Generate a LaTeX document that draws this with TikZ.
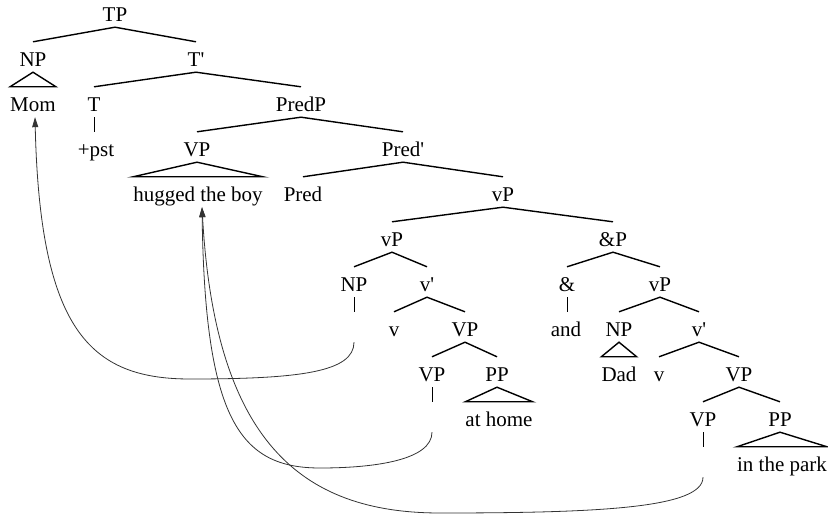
\documentclass[tikz,border=0pt]{standalone}
\usepackage{fontspec}
\setmainfont{Liberation Serif}
\usetikzlibrary{arrows.meta}
\begin{document}
\begin{tikzpicture}[x=1pt,y=-1pt,
  lbl/.style={anchor=base,inner sep=0pt,text height=25pt,text depth=5pt,
              font=\fontsize{21pt}{25pt}\selectfont},
  branch/.style={line width=1.4pt},
  stem/.style={line width=0.8pt},
  roof/.style={line width=1.4pt,line join=miter},
  move/.style={line width=0.8pt,draw=black!80,
               -{Triangle[length=10pt,width=6pt]}}]
\useasboundingbox (0,0) rectangle (828,518);

% labels, placed on their baselines
\node[lbl] (tp)    at (115,22)  {TP};
\node[lbl] (np1)   at (33,67)   {NP};
\node[lbl] (tbar)  at (196,67)  {T\textquotesingle};
\node[lbl] (mom)   at (33,112)  {Mom};
\node[lbl] (t)     at (94,112)  {T};
\node[lbl] (predp) at (301,112) {PredP};
\node[lbl] (pst)   at (96,157)  {+pst};
\node[lbl] (vp1)   at (197,157) {VP};
\node[lbl] (predb) at (403,157) {Pred\textquotesingle};
\node[lbl] (hug)   at (198,202) {hugged the boy};
\node[lbl] (pred)  at (303,202) {Pred};
\node[lbl] (vp2)   at (503,202) {vP};
\node[lbl] (vpl)   at (392,247) {vP};
\node[lbl] (andp)  at (613,247) {\&P};
\node[lbl] (np2)   at (354,292) {NP};
\node[lbl] (vbl)   at (427,292) {v\textquotesingle};
\node[lbl] (amp)   at (567,292) {\&};
\node[lbl] (vpr)   at (660,292) {vP};
\node[lbl] (tr1)   at (354,337) {};
\node[lbl] (v1)    at (394,337) {v};
\node[lbl] (vp3)   at (465,337) {VP};
\node[lbl] (and)   at (566,337) {and};
\node[lbl] (np3)   at (619,337) {NP};
\node[lbl] (vbr)   at (699,337) {v\textquotesingle};
\node[lbl] (vp4)   at (432,382) {VP};
\node[lbl] (pp1)   at (497,382) {PP};
\node[lbl] (dad)   at (619,382) {Dad};
\node[lbl] (v2)    at (659,382) {v};
\node[lbl] (vp5)   at (739,382) {VP};
\node[lbl] (tr2)   at (432,427) {};
\node[lbl] (home)  at (499,427) {at home};
\node[lbl] (vp6)   at (703,427) {VP};
\node[lbl] (pp2)   at (780,427) {PP};
\node[lbl] (tr3)   at (703,472) {};
\node[lbl] (park)  at (782,472) {in the park};

% branches
\draw[branch] (np1.north) -- (tp.south) -- (tbar.north);
\draw[branch] (t.north) -- (tbar.south) -- (predp.north);
\draw[branch] (vp1.north) -- (predp.south) -- (predb.north);
\draw[branch] (pred.north) -- (predb.south) -- (vp2.north);
\draw[branch] (vpl.north) -- (vp2.south) -- (andp.north);
\draw[branch] (np2.north) -- (vpl.south) -- (vbl.north);
\draw[branch] (amp.north) -- (andp.south) -- (vpr.north);
\draw[branch] (v1.north) -- (vbl.south) -- (vp3.north);
\draw[branch] (np3.north) -- (vpr.south) -- (vbr.north);
\draw[branch] (vp4.north) -- (vp3.south) -- (pp1.north);
\draw[branch] (v2.north) -- (vbr.south) -- (vp5.north);
\draw[branch] (vp6.north) -- (vp5.south) -- (pp2.north);

% unary stems
\draw[stem] (t.south) -- (t.south |- pst.north);
\draw[stem] (np2.south) -- (tr1.north);
\draw[stem] (amp.south) -- (amp.south |- and.north);
\draw[stem] (vp4.south) -- (tr2.north);
\draw[stem] (vp6.south) -- (tr3.north);

% roofs over unanalysed phrases
\draw[roof] (np1.south) -- (mom.north west) -- (mom.north east) -- cycle;
\draw[roof] (vp1.south) -- (hug.north west) -- (hug.north east) -- cycle;
\draw[roof] (np3.south) -- (dad.north west) -- (dad.north east) -- cycle;
\draw[roof] (pp1.south) -- (home.north west) -- (home.north east) -- cycle;
\draw[roof] (pp2.south) -- (park.north west) -- (park.north east) -- cycle;

% movement arrows
\coordinate (b1) at (190,379);
\coordinate (b2) at (320,468);
\coordinate (b3) at (440,513);
\draw[move] (tr1.south) .. controls (354,372) and (300,379) .. (b1)
  .. controls (90,379) and (40,330) .. ([xshift=2pt]mom.south);
\draw[move] (tr2.south) .. controls (432,460) and (375,468) .. (b2)
  .. controls (240,468) and (205,420) .. ([xshift=4pt]hug.south);
\draw[move] (tr3.south) .. controls (703,508) and (600,513) .. (b3)
  .. controls (300,513) and (215,440) .. ([xshift=4pt]hug.south);
\end{tikzpicture}
\end{document}
